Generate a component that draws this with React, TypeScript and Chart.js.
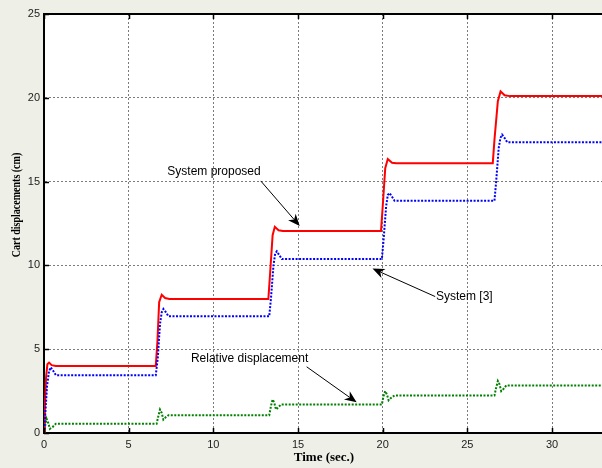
import React, { useEffect, useRef } from "react";
import { Chart, registerables } from "chart.js";

Chart.register(...registerables);

// ---- Data (time in sec, displacement in cm) ----
const proposedT = [0, 0.05, 0.12, 0.2, 0.3, 0.45, 0.7, 6.6, 6.7, 6.8, 6.95, 7.15, 7.4, 13.25, 13.35, 13.5, 13.63, 13.85, 14.1, 19.9, 20.0, 20.15, 20.3, 20.55, 20.8, 26.5, 26.6, 26.8, 26.96, 27.2, 27.5, 33.5];
const proposedY = [0, 1.5, 3.3, 4.1, 4.2, 4.05, 4.0, 4.0, 5.5, 7.8, 8.25, 8.05, 8.0, 8.0, 9.5, 11.8, 12.3, 12.1, 12.05, 12.05, 13.5, 15.8, 16.35, 16.12, 16.1, 16.1, 17.5, 19.8, 20.38, 20.15, 20.1, 20.1];

const sys3T = [0, 0.08, 0.18, 0.3, 0.4, 0.55, 0.7, 6.6, 6.72, 6.85, 6.95, 7.05, 7.2, 7.35, 13.3, 13.4, 13.55, 13.65, 13.75, 13.9, 14.05, 19.95, 20.05, 20.2, 20.3, 20.4, 20.55, 20.7, 26.6, 26.7, 26.85, 26.95, 27.05, 27.2, 27.35, 33.5];
const sys3Y = [0, 1.2, 2.8, 3.7, 3.92, 3.7, 3.45, 3.45, 4.5, 6.5, 7.2, 7.4, 7.2, 6.96, 6.96, 8.0, 10.0, 10.7, 10.84, 10.6, 10.38, 10.38, 11.5, 13.5, 14.2, 14.32, 14.1, 13.86, 13.86, 15.0, 17.0, 17.6, 17.8, 17.6, 17.35, 17.35];

const relT = [0, 0.08, 0.15, 0.25, 0.35, 0.5, 0.7, 6.65, 6.75, 6.85, 6.95, 7.05, 7.2, 7.35, 13.3, 13.4, 13.5, 13.6, 13.7, 13.85, 14.0, 19.95, 20.05, 20.15, 20.25, 20.35, 20.5, 20.7, 26.6, 26.7, 26.8, 26.9, 27.0, 27.15, 27.3, 33.5];
const relY = [0, 0.5, 0.85, 0.6, 0.25, 0.35, 0.55, 0.55, 1.0, 1.4, 1.2, 0.8, 0.95, 1.06, 1.06, 1.6, 2.0, 1.8, 1.4, 1.55, 1.7, 1.7, 2.2, 2.5, 2.3, 1.95, 2.1, 2.24, 2.24, 2.7, 3.1, 2.9, 2.5, 2.65, 2.84, 2.84];

const xTicks = [0, 5, 10, 15, 20, 25, 30];
const yTicks = [0, 5, 10, 15, 20, 25];

// Annotations in data coordinates: label centre, arrow start, arrow tip
const annLabels = ["System proposed", "System [3]", "Relative displacement"];
const annText = [[10.04, 15.58], [24.82, 8.14], [12.14, 4.45]];
const annFrom = [[12.8, 15.04], [23.1, 8.14], [15.51, 3.95]];
const annTip = [[15.1, 12.35], [19.4, 9.81], [18.46, 1.83]];

const xTitle = "Time (sec.)";
const yTitle = "Cart displacements (cm)";

function toPts(t: number[], y: number[]) {
  return t.map((v, i) => ({ x: v, y: y[i] }));
}

const decorPlugin = {
  id: "decor",
  beforeDraw(chart: any) {
    const { ctx, chartArea } = chart;
    ctx.save();
    ctx.fillStyle = "#eef0e7";
    ctx.fillRect(0, 0, chart.width, chart.height);
    ctx.fillStyle = "#ffffff";
    ctx.fillRect(chartArea.left, chartArea.top, chartArea.right - chartArea.left, chartArea.bottom - chartArea.top);
    ctx.restore();
  },
  afterDraw(chart: any) {
    const { ctx, chartArea } = chart;
    const xs = chart.scales.x;
    const ys = chart.scales.y;
    ctx.save();
    // top border
    ctx.strokeStyle = "#000";
    ctx.lineWidth = 2;
    ctx.beginPath();
    ctx.moveTo(chartArea.left - 1, chartArea.top);
    ctx.lineTo(chartArea.right, chartArea.top);
    ctx.stroke();
    // inward ticks
    ctx.lineWidth = 1.5;
    xTicks.forEach((t) => {
      const px = Math.round(xs.getPixelForValue(t)) + 0.5;
      ctx.beginPath();
      ctx.moveTo(px, chartArea.bottom);
      ctx.lineTo(px, chartArea.bottom - 5);
      ctx.moveTo(px, chartArea.top);
      ctx.lineTo(px, chartArea.top + 5);
      ctx.stroke();
    });
    yTicks.forEach((t) => {
      const py = Math.round(ys.getPixelForValue(t)) + 0.5;
      ctx.beginPath();
      ctx.moveTo(chartArea.left, py);
      ctx.lineTo(chartArea.left + 5, py);
      ctx.stroke();
    });
    // annotations
    ctx.fillStyle = "#000";
    ctx.strokeStyle = "#000";
    ctx.lineWidth = 1;
    ctx.font = "12px 'Liberation Sans', Arial, sans-serif";
    ctx.textAlign = "center";
    ctx.textBaseline = "middle";
    annLabels.forEach((lab, i) => {
      const tx = xs.getPixelForValue(annText[i][0]);
      const ty = ys.getPixelForValue(annText[i][1]);
      ctx.fillText(lab, tx, ty);
      const fx = xs.getPixelForValue(annFrom[i][0]);
      const fy = ys.getPixelForValue(annFrom[i][1]);
      const px = xs.getPixelForValue(annTip[i][0]);
      const py = ys.getPixelForValue(annTip[i][1]);
      const ang = Math.atan2(py - fy, px - fx);
      const L = 12, W = 5, N = 8.5;
      ctx.beginPath();
      ctx.moveTo(fx, fy);
      ctx.lineTo(px - N * Math.cos(ang), py - N * Math.sin(ang));
      ctx.stroke();
      const bx = px - L * Math.cos(ang);
      const by = py - L * Math.sin(ang);
      const nx = px - N * Math.cos(ang);
      const ny = py - N * Math.sin(ang);
      ctx.beginPath();
      ctx.moveTo(px, py);
      ctx.lineTo(bx + W * Math.sin(ang), by - W * Math.cos(ang));
      ctx.lineTo(nx, ny);
      ctx.lineTo(bx - W * Math.sin(ang), by + W * Math.cos(ang));
      ctx.closePath();
      ctx.fill();
    });
    // axis titles
    ctx.font = "bold 13px 'Liberation Serif', 'Times New Roman', serif";
    ctx.fillText(xTitle, (chartArea.left + chartArea.right) / 2 + 1, 458);
    ctx.font = "bold 12.5px 'Liberation Serif', 'Times New Roman', serif";
    ctx.translate(17, 205);
    ctx.rotate(-Math.PI / 2);
    ctx.scale(0.8, 1);
    ctx.fillText(yTitle, 0, 0);
    ctx.restore();
  },
};

export default function App() {
  const ref = useRef<HTMLCanvasElement>(null);
  useEffect(() => {
    if (!ref.current) return;
    const chart = new Chart(ref.current, {
      type: "line",
      data: {
        datasets: [
          {
            label: "System [3]",
            data: toPts(sys3T, sys3Y),
            borderColor: "#0000ff",
            borderWidth: 2,
            borderDash: [2, 1.5],
            pointRadius: 0,
            tension: 0,
          },
          {
            label: "Relative displacement",
            data: toPts(relT, relY),
            borderColor: "#008000",
            borderWidth: 2,
            borderDash: [2, 1.5],
            pointRadius: 0,
            tension: 0,
          },
          {
            label: "System proposed",
            data: toPts(proposedT, proposedY),
            borderColor: "#ff0000",
            borderWidth: 2,
            pointRadius: 0,
            tension: 0,
          },
        ],
      },
      options: {
        animation: false,
        responsive: false,
        maintainAspectRatio: false,
        layout: { padding: { top: 14, right: 0, left: 0, bottom: 0 } },
        plugins: { legend: { display: false }, tooltip: { enabled: false } },
        scales: {
          x: {
            type: "linear",
            min: 0,
            max: 32.95,
            afterFit: (s: any) => { s.height = 35; },
            afterBuildTicks: (s: any) => { s.ticks = xTicks.map((v) => ({ value: v })); },
            grid: { color: "#7a7a7a", lineWidth: 1, drawTicks: false },
            border: { display: true, color: "#000", width: 2, dash: [2, 2] },
            ticks: { padding: 5, color: "#222", font: { family: "'Liberation Sans', Arial", size: 11 }, maxRotation: 0 },
          },
          y: {
            type: "linear",
            min: 0,
            max: 25,
            afterFit: (s: any) => { s.width = 44; },
            afterBuildTicks: (s: any) => { s.ticks = yTicks.map((v) => ({ value: v })); },
            grid: { color: "#7a7a7a", lineWidth: 1, drawTicks: false },
            border: { display: true, color: "#000", width: 2, dash: [2, 2] },
            ticks: { padding: 4, color: "#222", font: { family: "'Liberation Sans', Arial", size: 11 } },
          },
        },
      },
      plugins: [decorPlugin],
    });
    return () => chart.destroy();
  }, []);
  return (
    <div style={{ position: "absolute", left: 0, top: 0, width: 602, height: 468 }}>
      <canvas ref={ref} width={602} height={468} style={{ width: 602, height: 468, display: "block" }} />
    </div>
  );
}
